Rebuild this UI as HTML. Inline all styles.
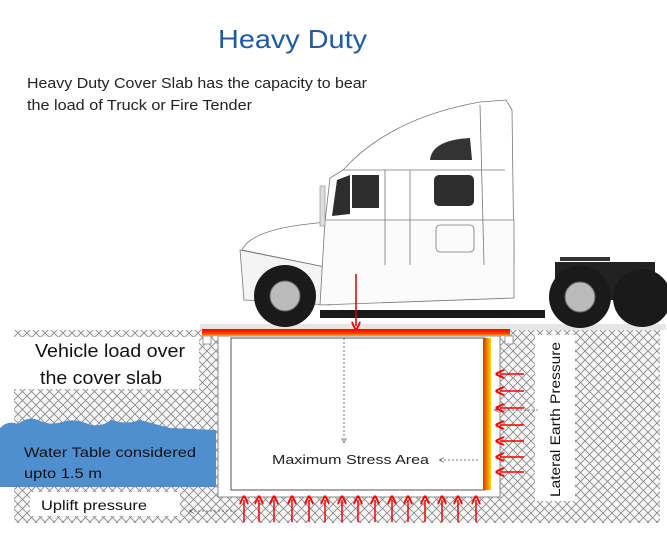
<!DOCTYPE html>
<html><head><meta charset="utf-8"><style>
html,body{margin:0;padding:0;background:#fff;}
svg{display:block;font-family:"Liberation Sans",sans-serif;}
</style></head><body>
<svg width="667" height="533" viewBox="0 0 667 533" xmlns="http://www.w3.org/2000/svg">
<defs>
<pattern id="hx" width="9" height="9" patternUnits="userSpaceOnUse">
<rect width="9" height="9" fill="#f8f8f8"/>
<path d="M0 0L9 9M9 0L0 9" stroke="#8a8a8a" stroke-width="0.9"/>
</pattern>
<linearGradient id="slab" x1="0" y1="0" x2="0" y2="1">
<stop offset="0" stop-color="#f00"/><stop offset="0.6" stop-color="#f04000"/><stop offset="1" stop-color="#f8b000"/>
</linearGradient>
<linearGradient id="wall" x1="0" y1="0" x2="1" y2="0">
<stop offset="0" stop-color="#e03000"/><stop offset="0.5" stop-color="#f08000"/><stop offset="1" stop-color="#ffd800"/>
</linearGradient>
<marker id="ar" markerWidth="6" markerHeight="6" refX="3" refY="3" orient="auto"><path d="M0 0L6 3L0 6" fill="none" stroke="#f00" stroke-width="1.3"/></marker>
<marker id="ad" markerWidth="6" markerHeight="6" refX="5" refY="3" orient="auto"><path d="M0 0L6 3L0 6" fill="none" stroke="#555" stroke-width="0.8"/></marker>
</defs>

<text x="218" y="48" font-size="26" fill="#1f5aa6" textLength="149" lengthAdjust="spacingAndGlyphs">Heavy Duty</text>
<text x="27" y="88" font-size="14.5" fill="#222" textLength="340" lengthAdjust="spacingAndGlyphs">Heavy Duty Cover Slab has the capacity to bear</text>
<text x="27" y="110" font-size="14.5" fill="#222" textLength="225" lengthAdjust="spacingAndGlyphs">the load of Truck or Fire Tender</text>

<!-- ground -->
<rect x="14" y="330" width="646" height="193" fill="url(#hx)"/>
<rect x="200" y="324" width="466" height="6" fill="#e6e6e6"/>

<!-- truck -->
<g stroke="#777" stroke-width="0.8">
<path d="M242 250 Q250 232 300 225 L325 222 L330 178 L343 170 Q390 118 480 102 L506 100 L512 110 L514 265 L330 268 Z" fill="#fff"/>
<path d="M240 250 L244 300 L330 305 L330 268 Z" fill="#f4f4f4"/>
<path d="M325 220 L514 220 L514 298 L320 305 Z" fill="#fbfbfb"/>
<line x1="343" y1="170" x2="505" y2="170" />
<line x1="385" y1="170" x2="385" y2="265"/>
<line x1="410" y1="170" x2="410" y2="265"/>
<line x1="480" y1="105" x2="484" y2="265"/>
<rect x="436" y="225" width="38" height="27" rx="4" fill="none"/>
</g>
<path d="M430 160 Q432 140 470 138 L472 160 Z" fill="#333"/>
<rect x="434" y="175" width="40" height="31" rx="5" fill="#2d2d2d"/>
<rect x="352" y="175" width="27" height="33" fill="#2d2d2d"/>
<path d="M332 216 L337 180 L350 175 L350 214 Z" fill="#2d2d2d"/>
<rect x="320" y="186" width="5" height="40" fill="#ddd" stroke="#888" stroke-width="0.6"/>
<rect x="320" y="310" width="225" height="8" fill="#1a1a1a"/>
<path d="M555 262 L655 262 L655 300 L555 300 Z" fill="#222"/>
<rect x="560" y="257" width="50" height="4" fill="#333"/>
<circle cx="285" cy="296" r="31" fill="#1a1a1a"/><circle cx="285" cy="296" r="15" fill="#bbb" stroke="#666"/>
<circle cx="642" cy="298" r="29" fill="#1a1a1a"/>
<circle cx="580" cy="297" r="31" fill="#1a1a1a"/><circle cx="580" cy="297" r="15" fill="#bbb" stroke="#666"/>
<line x1="356" y1="274" x2="356" y2="326" stroke="#d00" stroke-width="1.5" marker-end="url(#ar)"/>

<!-- box -->
<rect x="218" y="336" width="282" height="161" fill="#fff" stroke="#888"/>
<rect x="231" y="338" width="254" height="152" fill="#fff" stroke="#555"/>
<rect x="483" y="338" width="8" height="152" fill="url(#wall)"/>
<rect x="203" y="336" width="8" height="8" fill="#fff" stroke="#888" stroke-width="0.8"/>
<rect x="505" y="336" width="8" height="8" fill="#fff" stroke="#888" stroke-width="0.8"/>
<rect x="202" y="329" width="308" height="7" fill="url(#slab)"/>
<line x1="344" y1="338" x2="344" y2="442" stroke="#555" stroke-width="0.8" stroke-dasharray="2,2" marker-end="url(#ad)"/>
<text x="272" y="464" font-size="13" fill="#222" textLength="157" lengthAdjust="spacingAndGlyphs">Maximum Stress Area</text>
<line x1="478" y1="460" x2="440" y2="460" stroke="#555" stroke-width="0.8" stroke-dasharray="2,2" marker-end="url(#ad)"/>

<!-- labels -->
<rect x="14" y="337" width="185" height="52" fill="#fff"/>
<text x="35" y="357" font-size="18" fill="#111" textLength="150" lengthAdjust="spacingAndGlyphs">Vehicle load over</text>
<text x="40" y="384" font-size="18" fill="#111" textLength="122" lengthAdjust="spacingAndGlyphs">the cover slab</text>

<path d="M0 428 Q8 420 18 424 Q28 416 38 420 Q50 426 62 422 Q75 418 88 424 Q100 428 112 420 Q125 425 140 420 Q155 424 170 428 L216 430 L216 487 L0 487 Z" fill="#4f8fd0"/>
<text x="24" y="457" font-size="13.5" fill="#111" textLength="172" lengthAdjust="spacingAndGlyphs">Water Table considered</text>
<text x="24" y="478" font-size="13.5" fill="#111" textLength="78" lengthAdjust="spacingAndGlyphs">upto 1.5 m</text>

<rect x="30" y="492" width="150" height="24" fill="#fff"/>
<text x="41" y="510" font-size="13.5" fill="#111" textLength="106" lengthAdjust="spacingAndGlyphs">Uplift pressure</text>
<line x1="236" y1="511" x2="190" y2="511" stroke="#555" stroke-width="0.8" stroke-dasharray="2,2" marker-end="url(#ad)"/>

<rect x="535" y="335" width="40" height="166" fill="#fff"/>
<text transform="translate(560,497) rotate(-90)" font-size="14" fill="#111" textLength="155" lengthAdjust="spacingAndGlyphs">Lateral Earth Pressure</text>
<line x1="538" y1="410" x2="495" y2="410" stroke="#555" stroke-width="0.8" stroke-dasharray="2,2" marker-end="url(#ad)"/>

<g stroke="#f00" stroke-width="1.5" marker-end="url(#ar)">
<line x1="524" y1="374" x2="500" y2="374"/>
<line x1="524" y1="391" x2="500" y2="391"/>
<line x1="524" y1="408" x2="500" y2="408"/>
<line x1="524" y1="425" x2="500" y2="425"/>
<line x1="524" y1="441" x2="500" y2="441"/>
<line x1="524" y1="457" x2="500" y2="457"/>
<line x1="524" y1="472" x2="500" y2="472"/>
</g>
<g stroke="#f00" stroke-width="1.5" marker-end="url(#ar)">
<line x1="244" y1="522" x2="244" y2="500"/>
<line x1="259" y1="522" x2="259" y2="500"/>
<line x1="274" y1="522" x2="274" y2="500"/>
<line x1="292" y1="522" x2="292" y2="500"/>
<line x1="309" y1="522" x2="309" y2="500"/>
<line x1="325" y1="522" x2="325" y2="500"/>
<line x1="342" y1="522" x2="342" y2="500"/>
<line x1="358" y1="522" x2="358" y2="500"/>
<line x1="375" y1="522" x2="375" y2="500"/>
<line x1="392" y1="522" x2="392" y2="500"/>
<line x1="408" y1="522" x2="408" y2="500"/>
<line x1="425" y1="522" x2="425" y2="500"/>
<line x1="442" y1="522" x2="442" y2="500"/>
<line x1="458" y1="522" x2="458" y2="500"/>
<line x1="476" y1="522" x2="476" y2="500"/>
</g>
</svg>
</body></html>
